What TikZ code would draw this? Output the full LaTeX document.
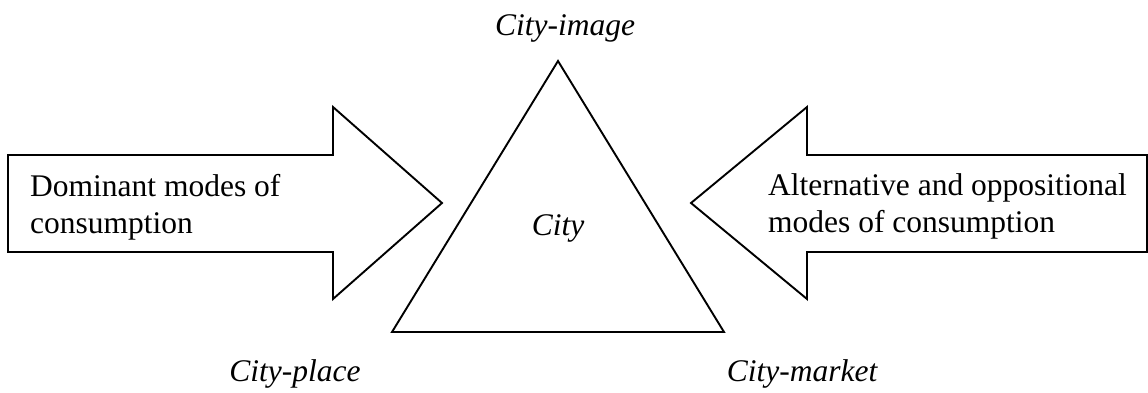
\documentclass[tikz,border=0pt]{standalone}
\usepackage{fontspec}
\setmainfont{Liberation Serif}
\begin{document}
\begin{tikzpicture}[x=1pt,y=-1pt,
  shapeline/.style={draw=black,line width=1.9pt,line join=miter,fill=white},
  bodytext/.style={font=\fontsize{31.5}{37}\selectfont,inner sep=0pt,align=left},
  labeltext/.style={font=\fontsize{31.5}{37}\selectfont\itshape,inner sep=0pt}]
\useasboundingbox (0,0) rectangle (1148,392);
% left block arrow
\draw[shapeline] (8,155) -- (333,155) -- (333,107) -- (442,203) -- (333,299) -- (333,252) -- (8,252) -- cycle;
% right block arrow
\draw[shapeline] (1147,155) -- (807,155) -- (807,107) -- (691,203) -- (807,299) -- (807,252) -- (1147,252) -- cycle;
% triangle
\coordinate (apex) at (558,61);
\coordinate (bl) at (392,332);
\coordinate (br) at (724,332);
\draw[shapeline] (apex) -- (bl) -- (br) -- cycle;
% texts (base anchor = baseline of last line)
\node[bodytext,anchor=base west] (dom) at (30,233) {Dominant modes of\\consumption};
\node[bodytext,anchor=base west] (alt) at (768,232) {Alternative and oppositional\\modes of consumption};
\node[labeltext,anchor=base] (img) at (565,35) {City-image};
\node[labeltext,anchor=base] (city) at (558,235) {City};
\node[labeltext,anchor=base] (place) at (295,381) {City-place};
\node[labeltext,anchor=base] (market) at (802,381) {City-market};
\end{tikzpicture}
\end{document}
